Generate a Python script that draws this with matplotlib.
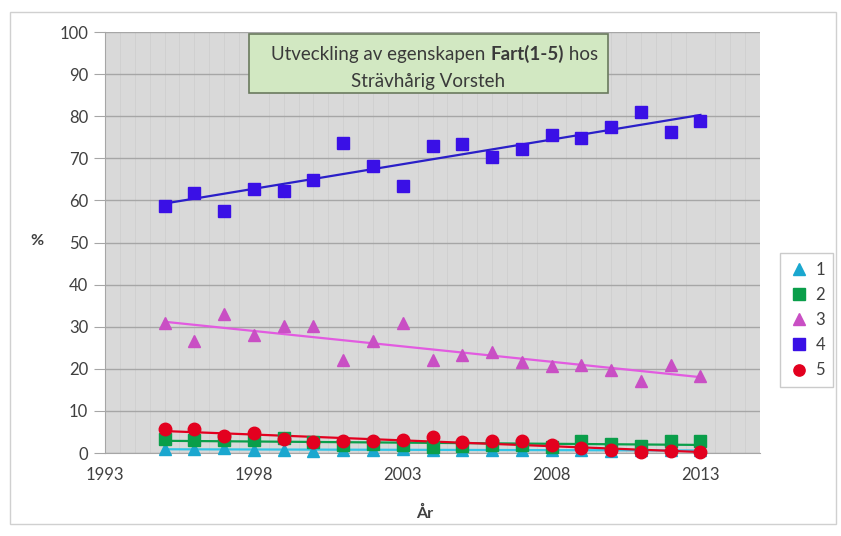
import matplotlib.pyplot as plt
import numpy as np
from matplotlib.patches import Rectangle

plt.rcParams["font.family"] = ["Lato", "DejaVu Sans"]

# ---------------------------------------------------------------------------
# Data
# ---------------------------------------------------------------------------
years = list(range(1995, 2014))

pct_1 = [1.0, 0.9, 1.1, 0.8, 0.8, 0.5, 0.6, 0.8, 0.9, 0.7, 0.6, 0.7, 0.8, 0.6, 0.7, 0.5, 0.8, 0.6, 0.7]
pct_2 = [3.4, 3.2, 3.2, 3.0, 3.5, 2.5, 2.0, 2.2, 1.8, 1.5, 1.6, 2.0, 1.8, 1.5, 2.9, 2.1, 1.7, 2.9, 2.9]
pct_3 = [30.8, 26.7, 33.0, 28.0, 30.2, 30.2, 22.2, 26.5, 30.8, 22.0, 23.3, 24.1, 21.7, 20.7, 20.9, 19.7, 17.2, 21.0, 18.3]
pct_4 = [58.6, 61.8, 57.6, 62.8, 62.2, 64.9, 73.6, 68.1, 63.4, 72.9, 73.3, 70.2, 72.2, 75.6, 74.8, 77.5, 81.0, 76.3, 78.9]
pct_5 = [5.7, 5.8, 4.1, 4.7, 3.4, 2.5, 2.9, 2.9, 3.2, 3.7, 2.5, 2.8, 2.9, 1.9, 1.1, 0.6, 0.3, 0.4, 0.3]

labels = ["1", "2", "3", "4", "5"]
x_ticks = [1993, 1998, 2003, 2008, 2013]
y_ticks = list(range(0, 101, 10))

SERIES = [
    # (values, marker, marker colour, trend colour)
    (pct_1, "^", "#1aa7cf", "#33c4e6"),
    (pct_2, "s", "#0a9e4a", "#0a9e4a"),
    (pct_3, "^", "#c94fc4", "#e25be0"),
    (pct_4, "s", "#3a10e6", "#2a1fc8"),
    (pct_5, "o", "#e3001f", "#e3001f"),
]

fig = plt.figure(figsize=(8.41, 5.36), dpi=100)
W, H = 841, 536

# outer chart border
fig.patches.append(Rectangle((10 / W, 12 / H), 826 / W, 512 / H, transform=fig.transFigure,
                             fill=False, edgecolor="#d0d0d0", linewidth=1.0))

ax = fig.add_axes([105 / W, (H - 453) / H, 655 / W, 421 / H])
ax.set_facecolor("#d9d9d9")

x = np.array(years, dtype=float)
for (vals, marker, mcol, lcol), lab in zip(SERIES, labels):
    y = np.array(vals)
    k, m = np.polyfit(x, y, 1)
    ax.plot(x, k * x + m, color=lcol, linewidth=1.6, zorder=2, clip_on=False)
    ax.plot(x, y, linestyle="none", marker=marker, markersize=9, color=mcol,
            markeredgecolor=mcol, label=lab, zorder=3, clip_on=False)

ax.set_xlim(1993, 2015)
ax.set_ylim(0, 100)
ax.set_xticks(x_ticks)
ax.set_yticks(y_ticks)
ax.set_xticks(np.arange(1993, 2015.01, 0.5), minor=True)

ax.set_axisbelow(True)
ax.grid(True, axis="y", which="major", color="#a6a6a6", linewidth=1.0)
ax.grid(True, axis="x", which="minor", color="#cfcfcf", linewidth=0.6)

for side in ("top", "right"):
    ax.spines[side].set_visible(False)
for side in ("left", "bottom"):
    ax.spines[side].set_color("#a6a6a6")

ax.tick_params(axis="y", which="major", length=8, color="#a6a6a6", labelsize=12,
               labelcolor="#404040", pad=4)
ax.tick_params(axis="x", which="major", length=0, labelsize=12, labelcolor="#404040", pad=10)
ax.tick_params(axis="x", which="minor", length=0)

fig.text(37 / W, 1 - 241 / H, "%", fontsize=11.5, fontweight="bold", color="#404040",
         ha="center", va="center")
fig.text(425 / W, 1 - 513 / H, "År", fontsize=11.5, fontweight="bold", color="#404040",
         ha="center", va="center")

# title box, drawn above the axes content
ax.add_patch(Rectangle((249 / W, 1 - 93 / H), 359 / W, 59 / H, transform=fig.transFigure,
                       facecolor="#d2e8c2", edgecolor="#6a7a5e", linewidth=1.2,
                       zorder=5, clip_on=False))
title_kw = dict(fontsize=13.5, color="#3a3a3a", zorder=6, annotation_clip=False)
bold = ax.annotate("Fart(1-5)", xy=(527 / W, 1 - 54 / H), xycoords="figure fraction",
                   ha="center", va="center", fontweight="bold", **title_kw)
left = ax.annotate("Utveckling av egenskapen ", xy=(0, 0), xycoords=bold, ha="right",
                   va="bottom", **title_kw)
right = ax.annotate(" hos", xy=(1, 0), xycoords=bold, ha="left", va="bottom", **title_kw)
ax.annotate("Strävhårig Vorsteh", xy=(428 / W, 1 - 81 / H), xycoords="figure fraction",
            ha="center", va="center", **title_kw)

# centre the three-part first line on the box
fig.canvas.draw()
x0 = left.get_window_extent().x0
x1 = right.get_window_extent().x1
shift = 428 - (x0 + x1) / 2
bold.xy = ((527 + shift) / W, 1 - 54 / H)

leg = fig.legend(loc="center left", bbox_to_anchor=(772 / W, 1 - 320 / H), frameon=True,
                 fancybox=False, edgecolor="#bfbfbf", fontsize=12, handletextpad=0.4,
                 handlelength=1.2, borderpad=0.5, labelspacing=0.55, markerscale=0.9)
for t in leg.get_texts():
    t.set_color("#404040")

fig.savefig("out.png", dpi=100)
